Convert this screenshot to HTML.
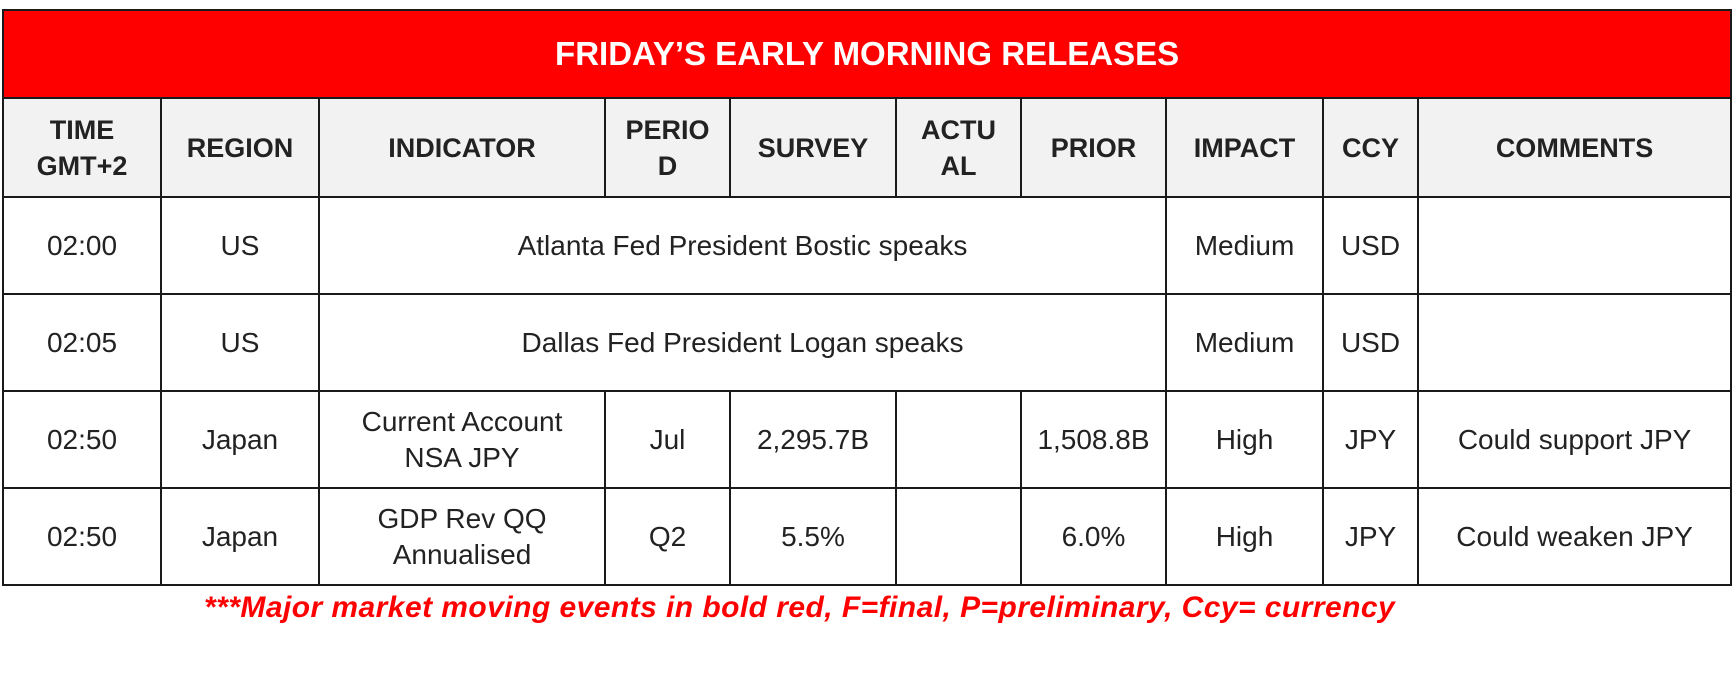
<!DOCTYPE html>
<html><head><style>
html,body{margin:0;padding:0;background:#fff;width:1732px;height:695px;overflow:hidden}
table{position:absolute;left:2px;top:9px;border-collapse:collapse;table-layout:fixed;width:1728px;font-family:"Liberation Sans",sans-serif;font-size:28px;color:#222}
td{border:2px solid #1a1a1a;text-align:center;vertical-align:middle;padding:0;line-height:36px;white-space:nowrap;overflow:hidden}
.t td{background:#ff0000;color:#fff;font-weight:bold;font-size:33px;height:86px}
.h td{background:#f2f2f2;font-weight:bold;font-size:27px;height:97px}
.r td{height:95px}
.f{position:absolute;left:204px;white-space:nowrap;top:591px;color:#ff0000;font-weight:bold;font-style:italic;font-family:"Liberation Sans",sans-serif;font-size:30px;letter-spacing:0.45px}
</style></head><body>
<table>
<colgroup><col style="width:158px"><col style="width:158px"><col style="width:286px"><col style="width:125px"><col style="width:166px"><col style="width:125px"><col style="width:145px"><col style="width:157px"><col style="width:95px"><col style="width:313px"></colgroup>
<tr class="t"><td colspan="10">FRIDAY’S EARLY MORNING RELEASES</td></tr>
<tr class="h"><td>TIME<br>GMT+2</td><td>REGION</td><td>INDICATOR</td><td>PERIO<br>D</td><td>SURVEY</td><td>ACTU<br>AL</td><td>PRIOR</td><td>IMPACT</td><td>CCY</td><td>COMMENTS</td></tr>
<tr class="r"><td>02:00</td><td>US</td><td colspan="5">Atlanta Fed President Bostic speaks</td><td>Medium</td><td>USD</td><td></td></tr>
<tr class="r"><td>02:05</td><td>US</td><td colspan="5">Dallas Fed President Logan speaks</td><td>Medium</td><td>USD</td><td></td></tr>
<tr class="r"><td>02:50</td><td>Japan</td><td>Current Account<br>NSA JPY</td><td>Jul</td><td>2,295.7B</td><td></td><td>1,508.8B</td><td>High</td><td>JPY</td><td>Could support JPY</td></tr>
<tr class="r"><td>02:50</td><td>Japan</td><td>GDP Rev QQ<br>Annualised</td><td>Q2</td><td>5.5%</td><td></td><td>6.0%</td><td>High</td><td>JPY</td><td>Could weaken JPY</td></tr>
</table>
<div class="f">***Major market moving events in bold red, F=final, P=preliminary, Ccy= currency</div>
</body></html>
